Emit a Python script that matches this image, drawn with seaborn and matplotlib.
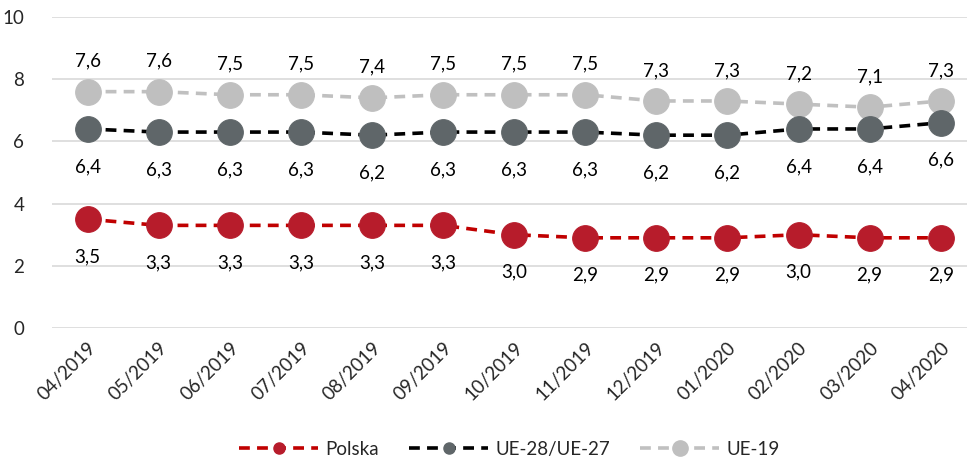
import matplotlib
matplotlib.use("Agg")
import matplotlib.pyplot as plt
from matplotlib.lines import Line2D
import pandas as pd
import seaborn as sns

months = ["04/2019", "05/2019", "06/2019", "07/2019", "08/2019", "09/2019", "10/2019",
          "11/2019", "12/2019", "01/2020", "02/2020", "03/2020", "04/2020"]
polska = [3.5, 3.3, 3.3, 3.3, 3.3, 3.3, 3.0, 2.9, 2.9, 2.9, 3.0, 2.9, 2.9]
ue28 = [6.4, 6.3, 6.3, 6.3, 6.2, 6.3, 6.3, 6.3, 6.2, 6.2, 6.4, 6.4, 6.6]
ue19 = [7.6, 7.6, 7.5, 7.5, 7.4, 7.5, 7.5, 7.5, 7.3, 7.3, 7.2, 7.1, 7.3]

sns.set_theme(style="white")
plt.rcParams["font.family"] = ["Lato", "DejaVu Sans"]

df = pd.DataFrame({"idx": range(len(months)), "Polska": polska,
                   "UE-28/UE-27": ue28, "UE-19": ue19})

FS = 13.5

# name, line colour, marker colour, label side
styles = [
    ("UE-19", "#C0C0C0", "#BFBFBF", "above"),
    ("UE-28/UE-27", "#000000", "#5F6669", "below"),
    ("Polska", "#C00000", "#B71C2B", "below"),
]

fig = plt.figure(figsize=(9.67, 4.61), dpi=100)
ax = fig.add_axes([52 / 967, 1 - 328 / 461, 1 - 52 / 967, (328 - 17) / 461])

for name, lc, mc, side in styles:
    sns.lineplot(data=df, x="idx", y=name, ax=ax, color=lc, linestyle=(0, (3, 2)),
                 linewidth=2.6, marker="o", markersize=18.5, markerfacecolor=mc,
                 markeredgecolor=mc, zorder=3)
    for i, v in enumerate(df[name]):
        dy = 22 if side == "above" else -27
        ax.annotate(f"{v:.1f}".replace(".", ","), (i, v), xytext=(0, dy),
                    textcoords="offset points", ha="center", va="center",
                    fontsize=FS, color="#000000")

ax.set_ylim(0, 10)
ax.set_yticks([0, 2, 4, 6, 8, 10])
ax.set_xlim(-0.5, 12.37)
ax.set_xticks(range(len(months)))
ax.set_xticklabels(months, rotation=45, ha="right", rotation_mode="anchor", fontsize=FS)
ax.tick_params(axis="y", labelsize=FS, pad=20, length=0)
ax.tick_params(axis="x", length=0, pad=8)
ax.grid(axis="y", color="#D9D9D9", linewidth=1.2)
ax.set_axisbelow(True)
for s in ax.spines.values():
    s.set_visible(False)
ax.set_xlabel("")
ax.set_ylabel("")

handles = [
    Line2D([], [], color="#C00000", linestyle=(0, (3, 2)), linewidth=2.6, marker="o",
           markersize=8, markerfacecolor="#B71C2B", markeredgecolor="#B71C2B"),
    Line2D([], [], color="#000000", linestyle=(0, (3, 2)), linewidth=2.6, marker="o",
           markersize=8, markerfacecolor="#5F6669", markeredgecolor="#5F6669"),
    Line2D([], [], color="#C0C0C0", linestyle=(0, (3, 2)), linewidth=2.6, marker="o",
           markersize=11, markerfacecolor="#BFBFBF", markeredgecolor="#BFBFBF"),
]
fig.legend(handles, ["Polska", "UE-28/UE-27", "UE-19"], loc="center",
           bbox_to_anchor=(0.527, 1 - 449 / 461), ncol=3, frameon=False,
           fontsize=FS, handlelength=4.2, columnspacing=1.6, handletextpad=0.4)

fig.savefig("out.png", dpi=100)
